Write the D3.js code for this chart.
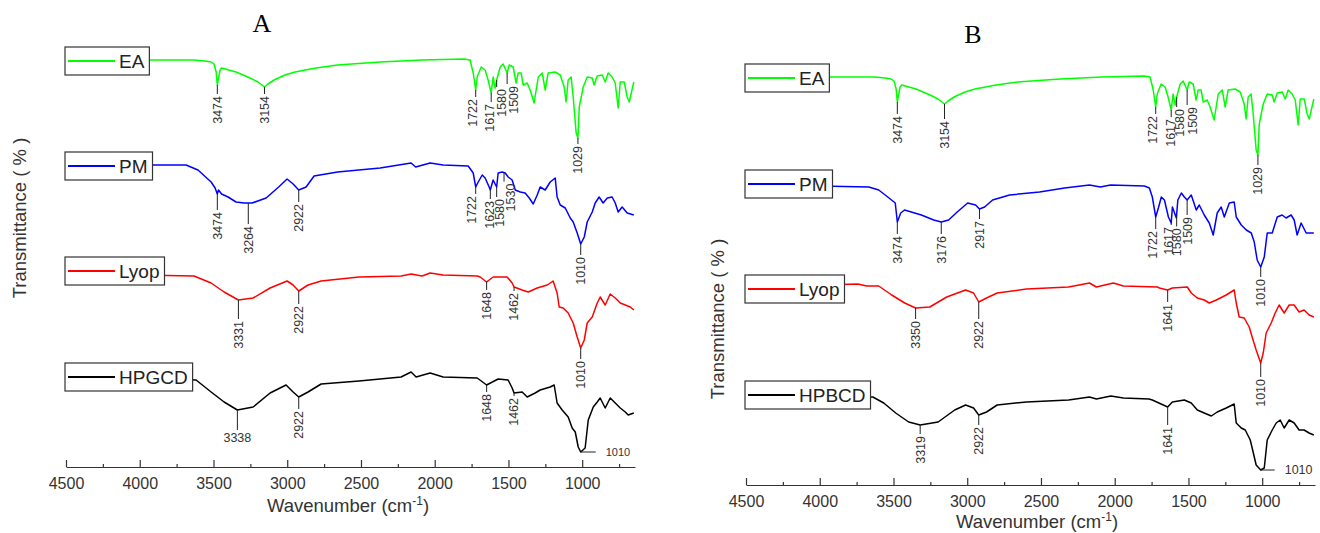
<!DOCTYPE html>
<html>
<head>
<meta charset="utf-8">
<script src="https://cdn.jsdelivr.net/npm/d3@7"></script>
<style>
  html, body { margin: 0; padding: 0; background: #fff; }
  svg { display: block; font-family: "Liberation Sans", Arial, sans-serif; }
</style>
</head>
<body>
<svg id="chart" width="1320" height="533"></svg>
<script>
// FTIR spectra, [wavenumber (cm-1), relative transmittance]
var EA = [[4000,100],[3632,100],[3557,99],[3516,98],[3496,96],[3482,88],[3474,75],[3466,82],[3455,90],[3445,92],[3347,88],[3252,82],[3198,78],[3154,73],[3130,76],[3089,80],[3015,85],[2947,88],[2805,92],[2659,95],[2371,98],[2086,100],[1801,101],[1760,100],[1739,87],[1722,70],[1712,83],[1685,93],[1658,90],[1638,80],[1617,67],[1604,83],[1590,72],[1580,80],[1556,93],[1536,96],[1509,87],[1495,95],[1468,93],[1448,77],[1434,87],[1414,87],[1400,75],[1373,77],[1353,70],[1326,57],[1298,83],[1271,87],[1251,70],[1231,87],[1183,88],[1149,85],[1122,73],[1109,58],[1095,80],[1075,83],[1061,63],[1041,27],[1029,22],[1020,53],[993,73],[966,83],[932,82],[919,75],[898,84],[864,85],[844,78],[824,87],[797,83],[776,77],[756,52],[742,78],[715,78],[695,63],[681,58],[650,78]];

var PM_A = [[4000,100],[3686,100],[3605,95],[3516,83],[3489,77],[3474,71],[3466,75],[3445,71],[3401,68],[3347,63],[3293,62],[3264,62],[3238,62],[3143,67],[3058,78],[3001,86],[2960,81],[2922,75],[2872,78],[2818,89],[2659,93],[2370,97],[2160,102],[2129,98],[2031,102],[1943,100],[1773,99],[1739,92],[1722,78],[1705,83],[1678,90],[1658,87],[1631,78],[1623,75],[1604,85],[1580,78],[1570,92],[1543,93],[1522,92],[1502,88],[1475,85],[1454,75],[1420,73],[1387,72],[1359,67],[1332,61],[1305,70],[1285,78],[1251,75],[1217,83],[1183,87],[1170,68],[1149,60],[1115,57],[1081,47],[1061,43],[1034,32],[1010,21],[986,28],[966,43],[932,53],[912,62],[885,68],[858,62],[830,67],[797,68],[776,62],[756,53],[729,58],[695,52],[650,50]];

var LYOP_A = [[4000,100],[3632,99],[3516,92],[3428,83],[3331,75],[3231,77],[3116,87],[3001,94],[2960,90],[2922,84],[2859,90],[2770,94],[2513,98],[2228,99],[2160,101],[2085,99],[2031,102],[1943,100],[1712,99],[1692,98],[1648,93],[1604,98],[1509,98],[1475,92],[1462,88],[1407,85],[1366,83],[1305,87],[1237,90],[1197,94],[1170,82],[1156,68],[1129,67],[1095,62],[1061,52],[1034,38],[1010,27],[986,35],[966,52],[932,58],[898,72],[878,78],[844,70],[810,81],[776,77],[742,72],[708,70],[674,68],[650,65]];

var HPGCD = [[4000,100],[3618,97],[3516,85],[3428,75],[3338,67],[3231,70],[3116,84],[3008,92],[2960,85],[2922,80],[2859,85],[2770,93],[2513,96],[2228,100],[2160,105],[2126,100],[2031,104],[1943,100],[1712,99],[1648,92],[1570,98],[1502,97],[1475,89],[1462,84],[1407,85],[1373,80],[1319,84],[1285,87],[1217,90],[1190,92],[1170,74],[1136,67],[1095,60],[1068,49],[1047,45],[1027,30],[1010,25],[980,29],[959,57],[925,70],[898,75],[878,79],[844,69],[810,79],[776,74],[742,69],[708,65],[688,62],[650,64]];

var PM_B = [[4000,100],[3667,99],[3600,96],[3539,89],[3488,83],[3474,64],[3451,73],[3425,76],[3311,71],[3227,66],[3176,64],[3126,66],[3068,74],[2997,83],[2943,81],[2917,77],[2882,79],[2828,86],[2713,91],[2510,94],[2340,98],[2171,101],[2097,99],[2029,101],[1799,100],[1765,98],[1745,89],[1722,69],[1704,78],[1684,89],[1663,86],[1636,69],[1617,63],[1609,79],[1582,68],[1572,86],[1548,93],[1528,89],[1509,86],[1481,91],[1447,76],[1427,81],[1393,71],[1359,63],[1332,51],[1305,73],[1278,79],[1257,69],[1223,83],[1190,84],[1176,69],[1142,61],[1108,56],[1074,53],[1054,44],[1034,26],[1010,19],[986,29],[966,53],[932,53],[898,69],[865,71],[838,68],[804,71],[783,66],[763,51],[736,63],[702,53],[650,53]];

var LYOP_B = [[4000,100],[3742,101],[3681,99],[3600,99],[3512,90],[3424,82],[3350,77],[3254,78],[3139,88],[3011,95],[2957,92],[2922,83],[2869,87],[2797,92],[2598,96],[2313,98],[2171,102],[2124,98],[2009,102],[1941,99],[1711,98],[1697,97],[1641,95],[1609,97],[1508,98],[1481,92],[1440,87],[1393,85],[1359,82],[1311,85],[1244,90],[1190,95],[1176,82],[1156,68],[1122,67],[1088,58],[1068,48],[1041,35],[1010,22],[993,32],[973,52],[939,62],[912,72],[885,80],[851,72],[817,80],[783,80],[750,73],[716,75],[682,70],[650,68]];

var HPBCD = [[4000,100],[3640,100],[3566,94],[3485,84],[3397,75],[3319,72],[3197,75],[3085,87],[3011,92],[2957,89],[2922,82],[2869,85],[2797,92],[2598,95],[2313,97],[2171,100],[2124,98],[2026,101],[1941,99],[1768,98],[1745,97],[1641,90],[1609,95],[1528,97],[1481,94],[1440,87],[1393,84],[1345,81],[1305,85],[1244,89],[1190,93],[1176,74],[1142,69],[1115,67],[1081,57],[1068,49],[1041,32],[1010,27],[986,29],[966,57],[932,67],[905,74],[878,77],[851,69],[817,77],[783,74],[750,67],[716,67],[682,64],[650,62]];

// peak labels: [wavenumber, leader length, text shift, kind]
var eaPeaksA = [[3474,9,0],[3154,7,0],[1722,7,-3],[1617,9,-2],[1580,7,5],[1509,11,6],[1029,6,0]];
var pmPeaksA = [[3474,16,0],[3264,21,0],[2922,12,0],[1722,7,-4],[1623,9,-1],[1580,10,3],[1530,9,7],[1010,11,0]];
var lyopPeaksA = [[3331,19,0],[2922,13,0],[1648,8,0],[1462,4,0],[1010,11,0]];
var hpgcdPeaksA = [[3338,20,0,'h'],[2922,12,0],[1648,7,0],[1462,3,0],[1010,15,0,'r']];

var eaPeaksB = [[3474,12,0],[3154,15,0],[1722,7,-3],[1617,7,-1],[1580,10,3],[1509,15,5],[1029,10,0]];
var pmPeaksB = [[3474,12,0],[3176,12,0],[2917,10,0],[1722,12,-3],[1617,2,-3],[1580,12,0],[1509,15,0],[1010,10,0]];
var lyopPeaksB = [[3350,11,0],[2922,17,0],[1641,12,0],[1010,14,0]];
var hpbcdPeaksB = [[3319,9,0],[2922,10,0],[1641,18,0],[1010,14,0,'r']];

var majorTicks = [4500, 4000, 3500, 3000, 2500, 2000, 1500, 1000];
var minorTicks = [4250, 3750, 3250, 2750, 2250, 1750, 1250, 750];
var xDomain = [4500, 642];

var GREEN = '#00ff00', BLUE = '#0000ff', RED = '#ff0000', BLACK = '#000000';

var panels = [
  { title: 'A', tx: 262, ty: 32, x0: 66, x1: 635, axisY: 467, ytx: 20, yty: 218, xtx: 348, xty: 512, small1010: 11,
    traces: [
      { name: 'EA', data: EA, color: GREEN, peaks: eaPeaksA, base: 60, legY: 61 },
      { name: 'PM', data: PM_A, color: BLUE, peaks: pmPeaksA, base: 165, legY: 166 },
      { name: 'Lyop', data: LYOP_A, color: RED, peaks: lyopPeaksA, base: 275, legY: 271 },
      { name: 'HPGCD', data: HPGCD, color: BLACK, peaks: hpgcdPeaksA, base: 377, legY: 377 }
    ] },
  { title: 'B', tx: 973, ty: 43, x0: 746, x1: 1315, axisY: 485, ytx: 718, yty: 319, xtx: 1037, xty: 528, small1010: 12.5,
    traces: [
      { name: 'EA', data: EA, color: GREEN, peaks: eaPeaksB, base: 77, legY: 78 },
      { name: 'PM', data: PM_B, color: BLUE, peaks: pmPeaksB, base: 186, legY: 184 },
      { name: 'Lyop', data: LYOP_B, color: RED, peaks: lyopPeaksB, base: 285, legY: 289 },
      { name: 'HPBCD', data: HPBCD, color: BLACK, peaks: hpbcdPeaksB, base: 397, legY: 395 }
    ] }
];

var svg = d3.select('#chart');
// 1 px per transmittance unit below each trace's baseline
var yT = d3.scaleLinear().domain([0, 100]).range([100, 0]);

function valueAt(data, wn) {
  for (var i = 0; i < data.length - 1; i++) {
    var a = data[i], b = data[i + 1];
    if (wn <= a[0] && wn >= b[0]) {
      var t = (a[0] - wn) / (a[0] - b[0]);
      return a[1] + t * (b[1] - a[1]);
    }
  }
  return data[data.length - 1][1];
}

panels.forEach(function (p) {
  var x = d3.scaleLinear().domain(xDomain).range([p.x0, p.x1]);
  var g = svg.append('g');

  // panel letter
  g.append('text')
    .attr('x', p.tx).attr('y', p.ty)
    .attr('text-anchor', 'middle')
    .style('font-family', '"Liberation Serif", "Times New Roman", serif')
    .style('font-size', '26px')
    .attr('fill', '#000')
    .text(p.title);

  // bottom axis, ticks pointing up
  var axis = g.append('g')
    .attr('transform', 'translate(0,' + p.axisY + ')')
    .call(d3.axisBottom(x).tickValues(majorTicks).tickFormat(d3.format('d'))
      .tickSize(-7).tickSizeOuter(0).tickPadding(10.5));
  axis.select('.domain').attr('stroke', '#333').attr('stroke-width', 1.2);
  axis.selectAll('.tick line').attr('stroke', '#333').attr('stroke-width', 1.2);
  axis.selectAll('.tick text')
    .style('font-family', '"Liberation Sans", Arial, sans-serif')
    .style('font-size', '16px').attr('fill', '#333');

  var minor = g.append('g')
    .attr('transform', 'translate(0,' + p.axisY + ')')
    .call(d3.axisBottom(x).tickValues(minorTicks).tickSize(-3).tickSizeOuter(0).tickFormat(''));
  minor.select('.domain').remove();
  minor.selectAll('.tick line').attr('stroke', '#333').attr('stroke-width', 1.2);

  // axis titles
  var xt = g.append('text')
    .attr('x', p.xtx).attr('y', p.xty)
    .attr('text-anchor', 'middle')
    .style('font-size', '18.5px').attr('fill', '#333');
  xt.append('tspan').text('Wavenumber (cm');
  xt.append('tspan').attr('dy', -7).style('font-size', '12px').text('-1');
  xt.append('tspan').attr('dy', 7).text(')');

  g.append('text')
    .attr('transform', 'translate(' + p.ytx + ',' + p.yty + ') rotate(-90)')
    .attr('text-anchor', 'middle')
    .attr('dy', '0.35em')
    .style('font-size', '18.5px').attr('fill', '#333')
    .text('Transmittance ( % )');

  var line = d3.line()
    .x(function (d) { return x(d[0]); })
    .y(function (d) { return yT(d[1]); });

  p.traces.forEach(function (tr) {
    var tg = g.append('g').attr('transform', 'translate(0,' + tr.base + ')');
    tg.append('path')
      .datum(tr.data)
      .attr('d', line)
      .attr('fill', 'none')
      .attr('stroke', tr.color)
      .attr('stroke-width', 1.5)
      .attr('stroke-linejoin', 'round');

    // peak annotations
    tr.peaks.forEach(function (pk) {
      var wn = pk[0], len = pk[1], dx = pk[2], kind = pk[3] || 'v';
      var px = x(wn), py = yT(valueAt(tr.data, wn));
      if (kind === 'r') {
        tg.append('line')
          .attr('x1', px).attr('x2', px + len)
          .attr('y1', py).attr('y2', py)
          .attr('stroke', '#222').attr('stroke-width', 1);
        tg.append('text')
          .attr('x', px + len + 10).attr('y', py + 4)
          .style('font-size', p.small1010 + 'px').attr('fill', '#333')
          .text(wn);
        return;
      }
      tg.append('line')
        .attr('x1', px).attr('x2', px)
        .attr('y1', py).attr('y2', py + len)
        .attr('stroke', '#222').attr('stroke-width', 1);
      if (kind === 'h') {
        tg.append('text')
          .attr('x', px).attr('y', py + len + 12)
          .attr('text-anchor', 'middle')
          .style('font-size', '12.5px').attr('fill', '#333')
          .text(wn);
      } else {
        tg.append('text')
          .attr('transform', 'translate(' + (px + dx) + ',' + (py + len + 2) + ') rotate(-90)')
          .attr('text-anchor', 'end')
          .attr('dy', '0.35em')
          .style('font-size', '12.5px').attr('fill', '#333')
          .text(wn);
      }
    });
  });

  // legend boxes on top of the trace starts
  p.traces.forEach(function (tr) {
    var lg = g.append('g').attr('transform', 'translate(' + (p.x0 - 1) + ',' + tr.legY + ')');
    var rect = lg.append('rect')
      .attr('x', 0).attr('y', -14).attr('height', 28)
      .attr('fill', '#fff').attr('stroke', '#333').attr('stroke-width', 1.2);
    lg.append('line')
      .attr('x1', 3).attr('x2', 50).attr('y1', 0).attr('y2', 0)
      .attr('stroke', tr.color).attr('stroke-width', 2);
    var t = lg.append('text')
      .attr('x', 54).attr('y', 7)
      .style('font-size', '19px').attr('fill', '#222')
      .text(tr.name);
    rect.attr('width', 54 + t.node().getComputedTextLength() + 5);
  });
});
</script>
</body>
</html>
